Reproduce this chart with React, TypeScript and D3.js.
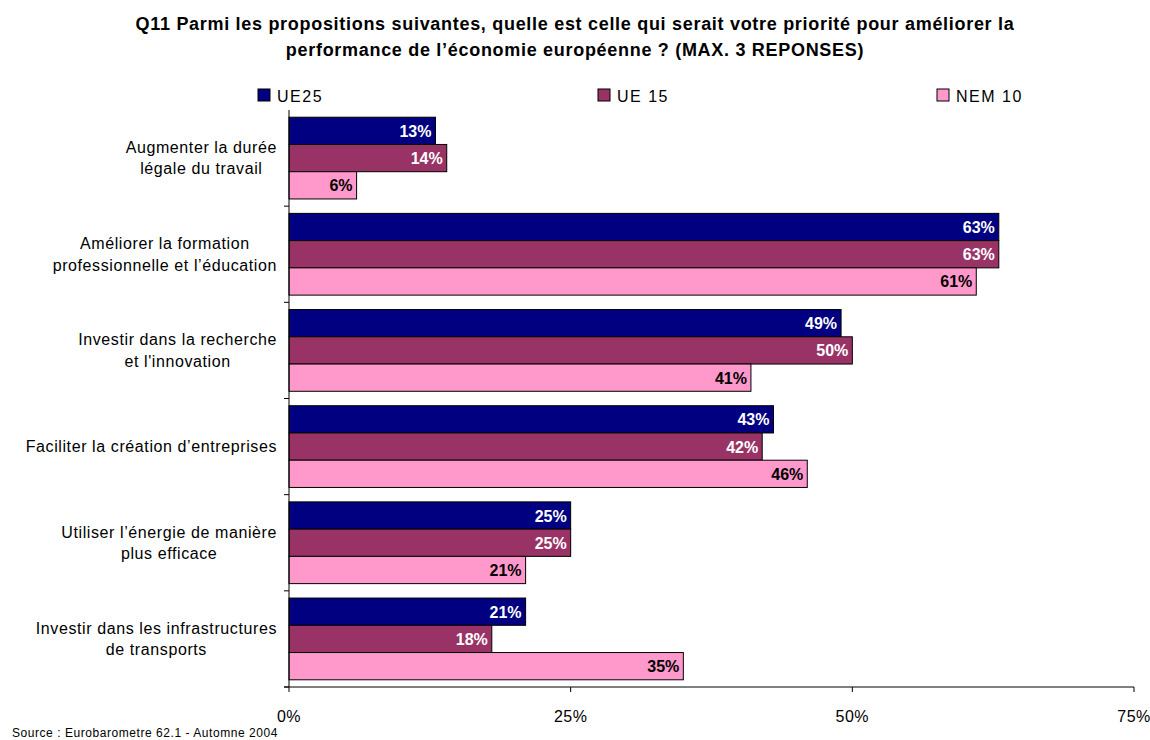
import React from "react";
import * as d3 from "d3";

const categories: string[][] = [
  ["Augmenter la durée", "légale du travail"],
  ["Améliorer la formation", "professionnelle et l’éducation"],
  ["Investir dans la recherche", "et l'innovation"],
  ["Faciliter la création d’entreprises"],
  ["Utiliser l’énergie de manière", "plus efficace"],
  ["Investir dans les infrastructures", "de transports"],
];
const seriesNames = ["UE25", "UE 15", "NEM 10"];
const ue25 = [13, 63, 49, 43, 25, 21];
const ue15 = [14, 63, 50, 42, 25, 18];
const nem10 = [6, 61, 41, 46, 21, 35];
const ticks = [0, 25, 50, 75];
const colors = ["#000080", "#993366", "#FF99CC"];
const labelColors = ["#ffffff", "#ffffff", "#000000"];

const FONT = "Liberation Sans, Arial, sans-serif";
const CAT_SIZE = 16;
const CAT_SPACING = 0.6;

export default function App() {
  const W = 1150, H = 740;
  const x0 = 289, x1 = 1134, yTop = 110, yBot = 687;
  const x = d3.scaleLinear().domain([0, 75]).range([x0, x1]);
  const idx = categories.map((_, i) => String(i));
  const y = d3.scaleBand().domain(idx).range([yTop, yBot]).paddingInner(0.15).paddingOuter(0.075);
  const inner = d3.scaleBand().domain(["0", "1", "2"]).range([0, y.bandwidth()]);
  const outer = d3.scaleBand().domain(idx).range([yTop, yBot]);
  const series = [ue25, ue15, nem10];

  const measure = (s: string) => {
    if (typeof document === "undefined") return s.length * 8;
    const c = document.createElement("canvas").getContext("2d")!;
    c.font = `${CAT_SIZE}px ${FONT}`;
    return c.measureText(s).width + CAT_SPACING * s.length;
  };

  const legendX = [258, 598, 937];

  return (
    <svg width={W} height={H} style={{ position: "absolute", left: 0, top: 0, background: "#fff" }} fontFamily={FONT}>
      <text x={575} y={30} textAnchor="middle" fontSize={18} fontWeight="bold" letterSpacing={0.7}>
        Q11 Parmi les propositions suivantes, quelle est celle qui serait votre priorité pour améliorer la
      </text>
      <text x={575} y={56} textAnchor="middle" fontSize={18} fontWeight="bold" letterSpacing={0.7}>
        performance de l’économie européenne ? (MAX. 3 REPONSES)
      </text>

      {seriesNames.map((n, i) => (
        <g key={n}>
          <rect x={legendX[i]} y={89} width={12} height={12} fill={colors[i]} stroke="#000" strokeWidth={1} />
          <text x={legendX[i] + 19} y={101.5} fontSize={16} letterSpacing={1.5}>{n}</text>
        </g>
      ))}

      {categories.map((lines, ci) => {
        const maxW = Math.max(...lines.map(measure));
        const cx = 277 - maxW / 2;
        const cy = (y(String(ci)) ?? 0) + y.bandwidth() / 2;
        const startY = cy - ((lines.length - 1) * 21.5) / 2 + 5.5;
        return (
          <text key={ci} fontSize={CAT_SIZE} textAnchor="middle" letterSpacing={CAT_SPACING}>
            {lines.map((l, li) => (
              <tspan key={li} x={cx} y={startY + li * 21.5}>{l}</tspan>
            ))}
          </text>
        );
      })}

      {categories.map((_, ci) =>
        series.map((vals, si) => {
          const by = (y(String(ci)) ?? 0) + (inner(String(si)) ?? 0);
          const bh = inner.bandwidth();
          return (
            <g key={`${ci}-${si}`}>
              <rect x={x(0)} y={by} width={x(vals[ci]) - x(0)} height={bh} fill={colors[si]} stroke="#000" strokeWidth={1} />
              <text x={x(vals[ci]) - 4} y={by + bh / 2 + 6} textAnchor="end" fontSize={16} fontWeight="bold" fill={labelColors[si]}>
                {vals[ci]}%
              </text>
            </g>
          );
        })
      )}

      <line x1={x0} x2={x0} y1={yTop} y2={yBot} stroke="#000" />
      {categories.map((_, ci) => {
        const yy = (outer(String(ci)) ?? 0) + outer.bandwidth();
        return <line key={ci} x1={x0 - 5} x2={x0} y1={yy} y2={yy} stroke="#000" />;
      })}
      <line x1={x0 - 5} x2={x1} y1={yBot} y2={yBot} stroke="#000" />
      {ticks.map((t) => (
        <g key={t}>
          <line x1={x(t)} x2={x(t)} y1={yBot} y2={yBot + 5} stroke="#000" />
          <text x={x(t)} y={722} textAnchor="middle" fontSize={16} letterSpacing={0.5}>{t}%</text>
        </g>
      ))}

      <text x={12} y={737} fontSize={12} letterSpacing={0.55}>Source : Eurobarometre 62.1 - Automne 2004</text>
    </svg>
  );
}
